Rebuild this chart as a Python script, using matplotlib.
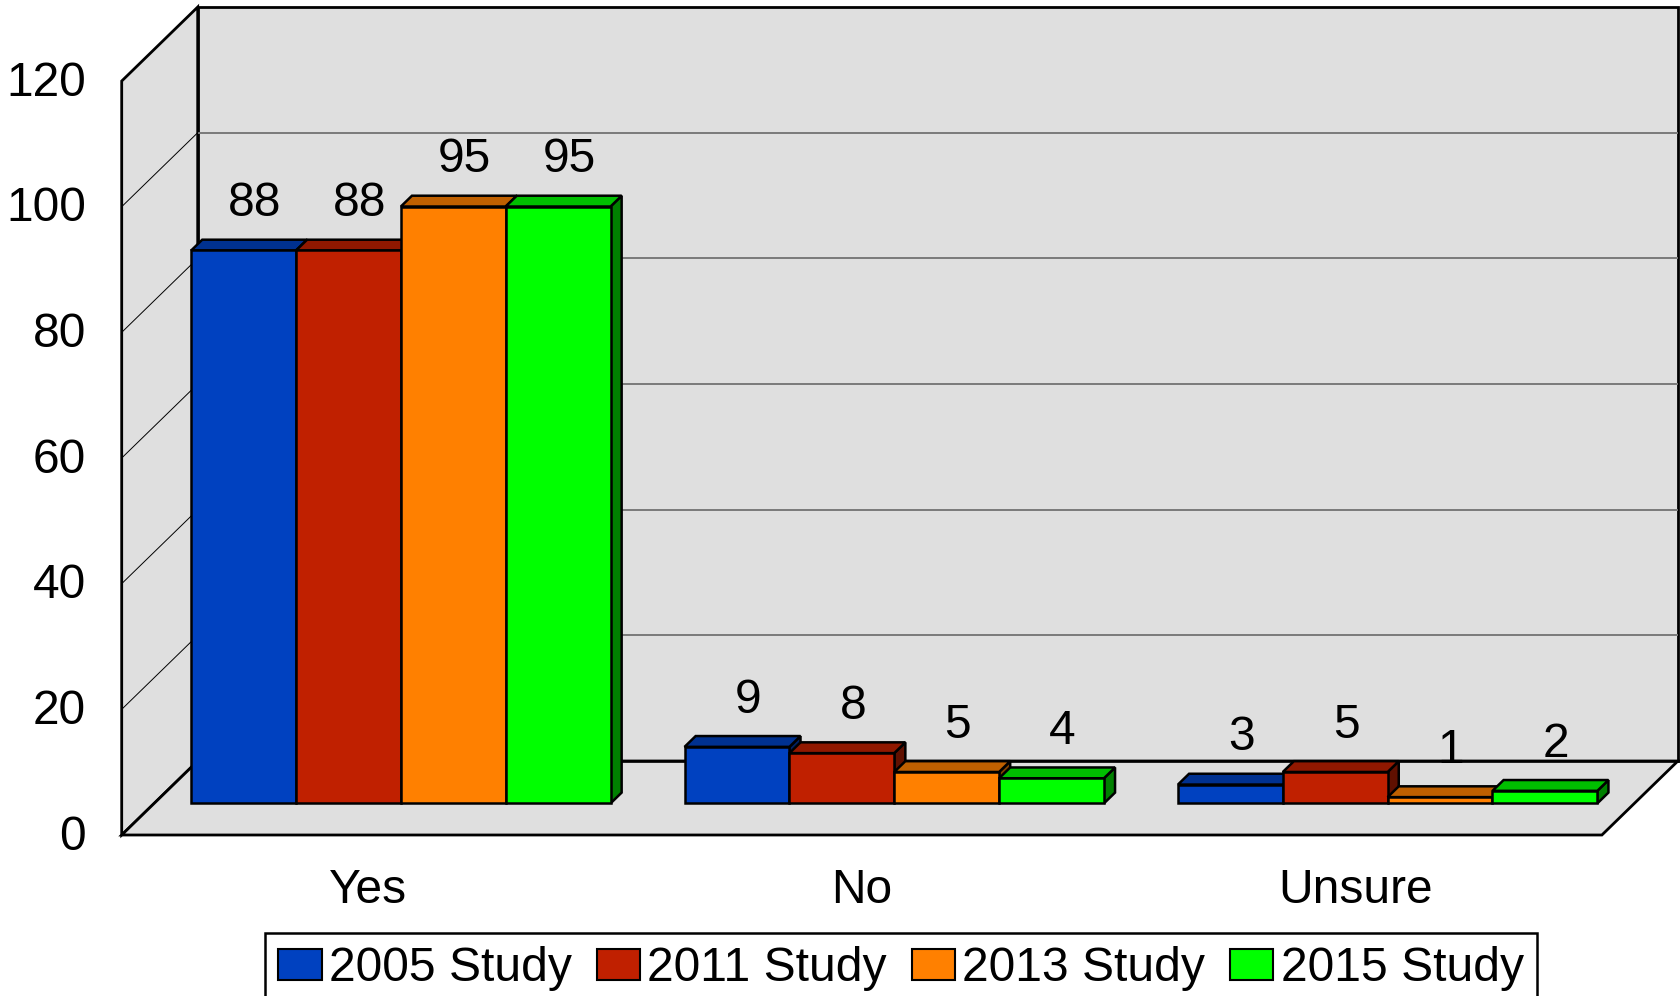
import matplotlib
matplotlib.use('Agg')
import matplotlib.pyplot as plt
from matplotlib.patches import Polygon, Patch
import numpy as np

# ---- data ----
categories = ['Yes', 'No', 'Unsure']
series_names = ['2005 Study', '2011 Study', '2013 Study', '2015 Study']
s2005 = [88, 9, 3]
s2011 = [88, 8, 5]
s2013 = [95, 5, 1]
s2015 = [95, 4, 2]
series = [s2005, s2011, s2013, s2015]
yticks = [0, 20, 40, 60, 80, 100, 120]
colors = ['#0041C0', '#C02000', '#FF8000', '#00FF00']

plt.rcParams['font.family'] = ['Liberation Sans', 'DejaVu Sans']
FS = 34.5

fig = plt.figure(figsize=(16.8, 9.96), dpi=100)
ax = fig.add_axes([0, 0, 1, 1])
PXX = 493.4      # pixels per category unit
PXY = 6.283      # pixels per value unit
X0, Y0 = 121.7, 835.0
ax.set_xlim(-X0 / PXX, (1680 - X0) / PXX)
ax.set_ylim((Y0 - 996) / PXY, Y0 / PXY)
ax.axis('off')

n = len(categories)
ymax = yticks[-1]
DX = 76 / PXX
DY = 74 / PXY
wall = '#DFDFDF'

def poly(pts, fc, ec='black', lw=1.8, z=1):
    ax.add_patch(Polygon(pts, closed=True, facecolor=fc, edgecolor=ec,
                         linewidth=lw, zorder=z, joinstyle='miter'))

# walls and floor
poly([(DX, DY), (n + DX, DY), (n + DX, ymax + DY), (DX, ymax + DY)], wall, lw=2.0, z=1)
poly([(0, 0), (DX, DY), (DX, ymax + DY), (0, ymax)], wall, lw=2.0, z=1)
poly([(0, 0), (n, 0), (n + DX, DY), (DX, DY)], wall, lw=2.0, z=1)

for v in yticks[1:-1]:
    ax.plot([DX, n + DX], [v + DY, v + DY], color='#7A7A7A', lw=1.4, zorder=2,
            solid_capstyle='butt')
    ax.plot([0, DX], [v, v + DY], color='black', lw=0.7, zorder=2)
ax.plot([DX, n + DX], [DY, DY], color='black', lw=1.8, zorder=2)

# y tick labels
for v in yticks:
    ax.text(-0.0724, v - 0.35, str(v), ha='right', va='center', fontsize=FS, zorder=10)

# bars
gap = 0.075
bw = (1 - 2 * gap) / len(series)
f1, f2 = 0.427, 0.573

def shade(c, k):
    r, g, b = matplotlib.colors.to_rgb(c)
    return (r * k, g * k, b * k)

for i in range(n):
    for j, s in enumerate(series):
        v = s[i]
        x0 = i + gap + j * bw
        ax1, ay1 = x0 + f1 * DX, f1 * DY
        ax2, ay2 = x0 + f2 * DX, f2 * DY
        z = 5 + j * 0.1
        # side face
        poly([(ax1 + bw, ay1), (ax2 + bw, ay2), (ax2 + bw, ay2 + v), (ax1 + bw, ay1 + v)],
             shade(colors[j], 0.5), z=z)
        # top face
        poly([(ax1, ay1 + v), (ax1 + bw, ay1 + v), (ax2 + bw, ay2 + v), (ax2, ay2 + v)],
             shade(colors[j], 0.75), z=z)
        # front face
        poly([(ax1, ay1), (ax1 + bw, ay1), (ax1 + bw, ay1 + v), (ax1, ay1 + v)],
             colors[j], z=z + 0.05)
        ax.text(ax2 + bw / 2, v + ay2 + 5.7, str(v), ha='center', va='center',
                fontsize=FS, zorder=10)

# category labels
for i, c in enumerate(categories):
    ax.text(i + 0.5, -8.8, c, ha='center', va='center', fontsize=FS, zorder=10)

# legend
handles = [Patch(facecolor=colors[j], edgecolor='black', linewidth=1.5)
           for j in range(len(series))]
leg = fig.legend(handles, series_names, loc='upper center', ncol=4,
                 bbox_to_anchor=(901 / 1680, 1 - 933 / 996),
                 fontsize=34.6, frameon=True, fancybox=False, framealpha=1,
                 edgecolor='black', handlelength=0.9, handleheight=0.62,
                 handletextpad=0.15, columnspacing=0.52, borderpad=0.28,
                 borderaxespad=0)
leg.get_frame().set_linewidth(1.8)

fig.savefig('out.png', dpi=100)
